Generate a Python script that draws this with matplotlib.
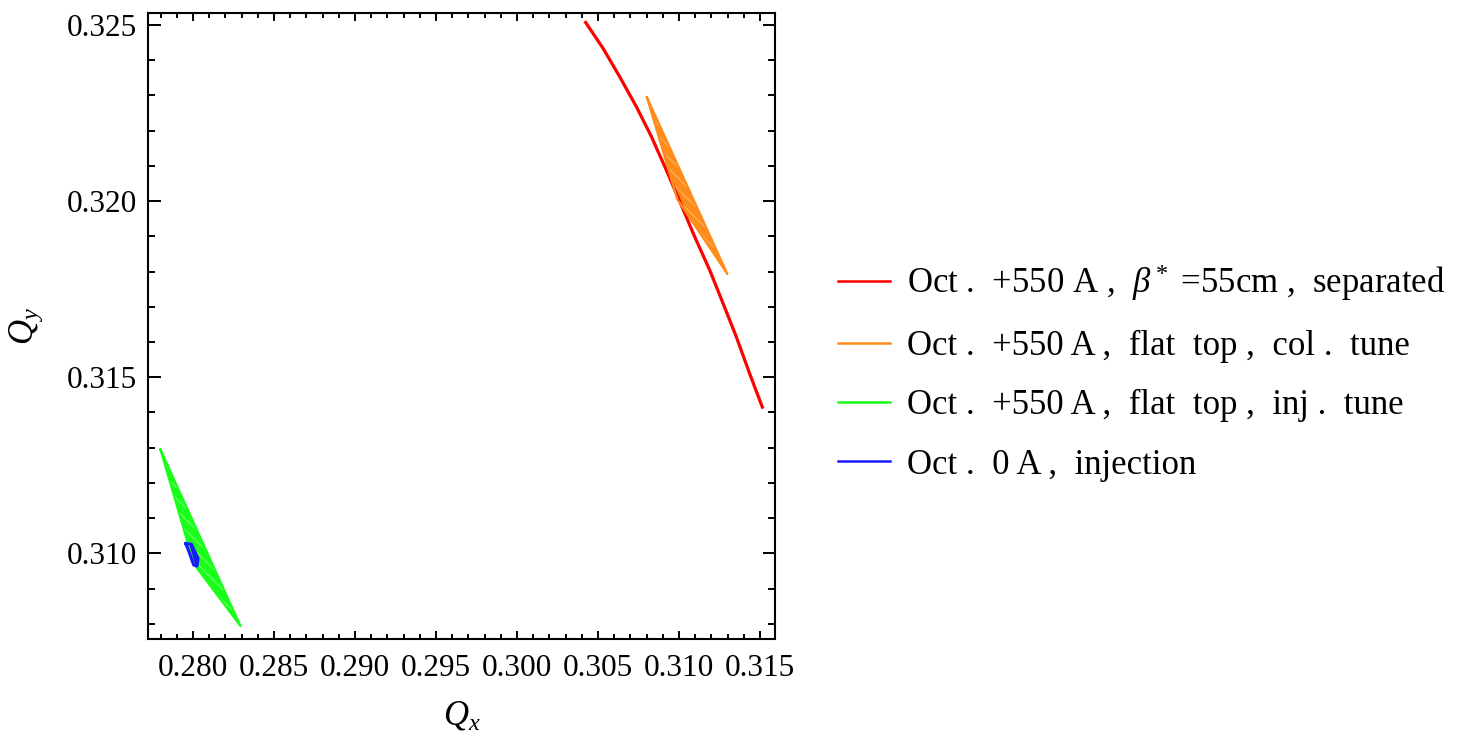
import matplotlib
matplotlib.use("Agg")
import matplotlib.pyplot as plt
from matplotlib.ticker import MultipleLocator, FormatStrFormatter

plt.rcParams['font.family'] = ['Liberation Serif', 'DejaVu Serif']
plt.rcParams['mathtext.fontset'] = 'custom'
plt.rcParams['mathtext.rm'] = 'Liberation Serif'
plt.rcParams['mathtext.it'] = 'Liberation Serif:italic'
plt.rcParams['mathtext.bf'] = 'Liberation Serif:bold'
plt.rcParams['hatch.linewidth'] = 0.8

# ---- data (tune footprints) ----
labels = [
    "Oct .  +550 A ,  $\\beta^*$ =55cm ,  separated",
    "Oct .  +550 A ,  flat  top ,  col .  tune",
    "Oct .  +550 A ,  flat  top ,  inj .  tune",
    "Oct .  0 A ,  injection",
]
colors = ["#ff0000", "#ff8c1a", "#1aff1a", "#1a1aff"]
light = ["#ff8080", "#ffb060", "#70ff70", "#8080ff"]

# red: thin curved footprint
red_qx = [0.30424, 0.30531, 0.30634, 0.30737, 0.30830, 0.30922, 0.31004,
          0.31097, 0.31190, 0.31272, 0.31354, 0.31436, 0.31515]
red_qy = [0.32507, 0.32434, 0.32353, 0.32268, 0.32183, 0.32088, 0.32000,
          0.31899, 0.31804, 0.31710, 0.31615, 0.31511, 0.31415]

# orange: triangle footprint (tip, zero-amplitude corner, tip)
orange_qx = [0.30802, 0.30990, 0.31299, 0.30802]
orange_qy = [0.32295, 0.32005, 0.31793, 0.32295]

# green: triangle footprint
green_qx = [0.27799, 0.28005, 0.28293, 0.27799]
green_qy = [0.31295, 0.30970, 0.30794, 0.31295]

# blue: small footprint
blue_qx = [0.27955, 0.27990, 0.28031, 0.28025, 0.28004, 0.27975, 0.27955]
blue_qy = [0.31028, 0.31026, 0.30986, 0.30964, 0.30967, 0.31005, 0.31028]

x_ticks = [0.280, 0.285, 0.290, 0.295, 0.300, 0.305, 0.310, 0.315]
y_ticks = [0.310, 0.315, 0.320, 0.325]

fig = plt.figure(figsize=(14.66, 7.37), dpi=100)
ax = fig.add_axes([148.3 / 1466, 1 - 639 / 737, (775 - 148.3) / 1466, (639 - 13.3) / 737])

lw = 1.6
# filled footprints with a light hatch texture
ax.fill(orange_qx, orange_qy, facecolor=colors[1], edgecolor=light[1], lw=0, hatch='\\\\\\')
ax.fill(green_qx, green_qy, facecolor=colors[2], edgecolor=light[2], lw=0, hatch='\\\\\\')
ax.fill(blue_qx, blue_qy, facecolor=colors[3], edgecolor='none')

ax.plot(red_qx, red_qy, color=colors[0], lw=2.3, label=labels[0])
ax.plot(orange_qx, orange_qy, color=colors[1], lw=lw, label=labels[1])
ax.plot(green_qx, green_qy, color=colors[2], lw=lw, label=labels[2])
ax.plot(blue_qx, blue_qy, color=colors[3], lw=2.2, label=labels[3])

ax.set_xlim(0.27724, 0.31593)
ax.set_ylim(0.30757, 0.32533)
ax.set_xticks(x_ticks)
ax.set_yticks(y_ticks)
ax.xaxis.set_minor_locator(MultipleLocator(0.001))
ax.yaxis.set_minor_locator(MultipleLocator(0.001))
ax.xaxis.set_major_formatter(FormatStrFormatter('%.3f'))
ax.yaxis.set_major_formatter(FormatStrFormatter('%.3f'))

for s in ax.spines.values():
    s.set_linewidth(1.5)

ax.tick_params(axis='both', which='both', direction='in', top=True, right=True,
               labelsize=22.5, width=1.4)
ax.tick_params(axis='x', which='major', length=6, pad=11)
ax.tick_params(axis='x', which='minor', length=3.5)
ax.tick_params(axis='y', which='major', length=9, pad=8)
ax.tick_params(axis='y', which='minor', length=5)

ax.set_xlabel("$Q_x$", fontsize=25, labelpad=12)
ax.set_ylabel("$Q_y$", fontsize=25, labelpad=16)

leg = fig.legend(loc='center left', bbox_to_anchor=(838 / 1466, 1 - 372 / 737),
                 frameon=False, fontsize=25, handlelength=1.5, handletextpad=0.5,
                 labelspacing=0.76, borderaxespad=0, borderpad=0)
for h in leg.get_lines():
    h.set_linewidth(1.8)

fig.savefig("out.png", dpi=100)
